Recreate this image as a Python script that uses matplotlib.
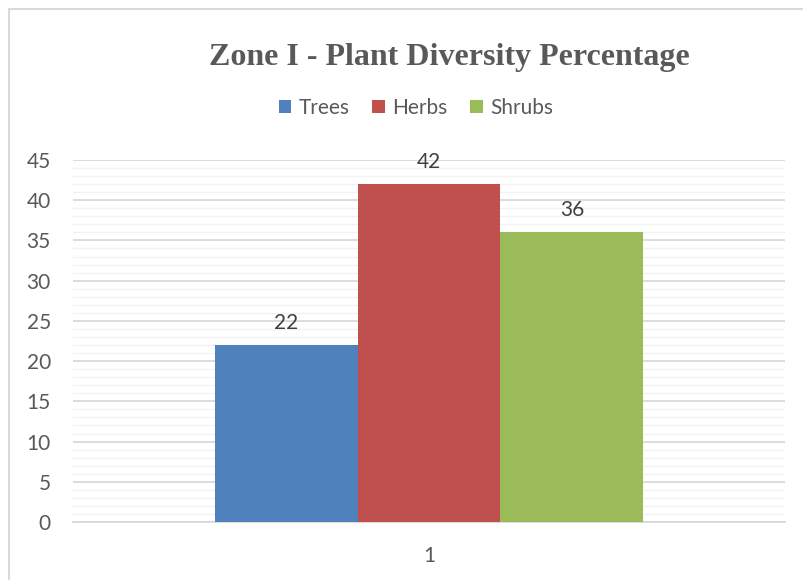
import matplotlib.pyplot as plt
from matplotlib.patches import Rectangle
from matplotlib.ticker import MultipleLocator

# data
categories = ["Trees", "Herbs", "Shrubs"]
values = [22, 42, 36]
colors = ["#4f81bd", "#c0504d", "#9bbb59"]
group_label = "1"

text_color = "#595959"
plt.rcParams['font.family'] = ['Lato', 'DejaVu Sans']

fig = plt.figure(figsize=(8.04, 5.8), dpi=100)
ax = fig.add_axes([73 / 804, 0.1, 712 / 804, 362 / 580])

# chart frame (only top/left visible in the reference)
fig.patches.append(Rectangle((8.5 / 804, -0.1), 1.2, 1 - 8.5 / 580 + 0.1,
                             transform=fig.transFigure, fill=False,
                             edgecolor="#d9d9d9", linewidth=1.5))

w = 0.2008
offsets = [-w, 0, w]
for name, v, c, off in zip(categories, values, colors, offsets):
    ax.bar(1 + off, v, width=w, color=c, label=name, zorder=3)
    ax.text(1 + off, v + 1.5, str(v), ha="center", va="bottom",
            fontsize=15, color="#404040")

ax.set_xlim(0.5, 1.5)
ax.set_ylim(0, 45)
ax.set_xticks([1])
ax.set_xticklabels([group_label])
ax.yaxis.set_major_locator(MultipleLocator(5))
ax.yaxis.set_minor_locator(MultipleLocator(1))
ax.grid(axis="y", which="major", color="#d9d9d9", linewidth=1.3, zorder=0)
ax.grid(axis="y", which="minor", color="#f2f2f2", linewidth=1.0, zorder=0)
ax.tick_params(axis="both", which="both", length=0, labelsize=15,
               labelcolor=text_color)
ax.tick_params(axis="y", pad=16)
ax.tick_params(axis="x", pad=17)
for s in ["top", "right", "left"]:
    ax.spines[s].set_visible(False)
ax.spines["bottom"].set_color("#d9d9d9")
ax.spines["bottom"].set_linewidth(1.3)

fig.text(449 / 804, 1 - 57 / 580, "Zone I - Plant Diversity Percentage",
         ha="center", va="center", fontsize=23, fontweight="bold",
         family="Liberation Serif", color=text_color)

fig.legend(loc="center", bbox_to_anchor=(416 / 804, 1 - 108 / 580), ncol=3,
           frameon=False, fontsize=15, labelcolor=text_color,
           handlelength=0.6, handleheight=0.6, handletextpad=0.35,
           columnspacing=1.1)

fig.savefig("out.png", dpi=100)
